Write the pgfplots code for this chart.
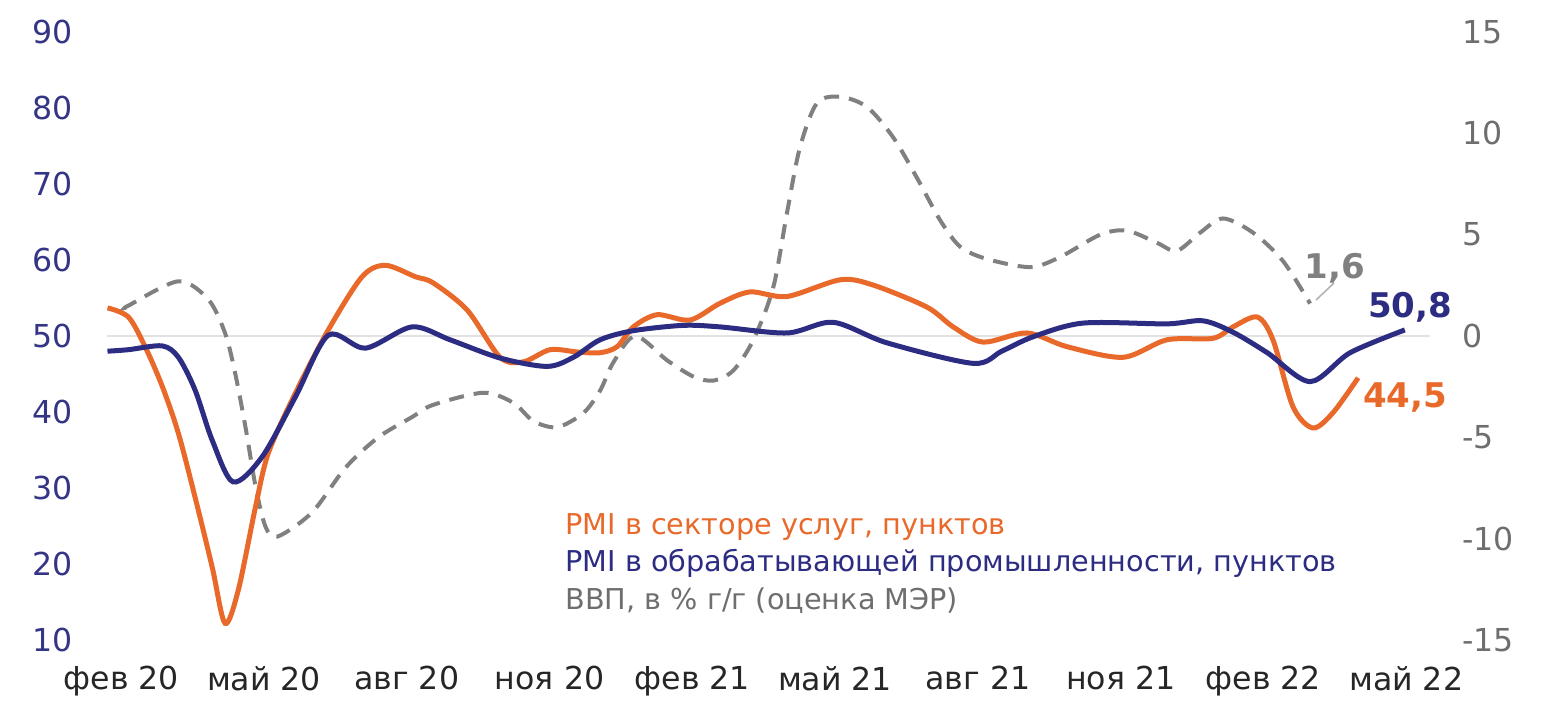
\documentclass[border=0pt]{standalone}
\usepackage{pgfplots}
\pgfplotsset{compat=1.18}
\usepackage{fontspec}
\setmainfont{DejaVu Sans}

\definecolor{cOrange}{HTML}{E8692A}
\definecolor{cNavy}{HTML}{2C2C82}
\definecolor{cGdp}{HTML}{808080}
\definecolor{cLeftTick}{HTML}{353585}
\definecolor{cRightTick}{HTML}{6E6E6E}
\definecolor{cZero}{HTML}{E2E2E2}

\pgfplotsset{
  common/.style={
    scale only axis,
    width=661.5pt, height=304pt,
    at={(53.5pt,31pt)}, anchor=south west,
    xmin=-0.3, xmax=27.5,
    axis line style={draw=none},
    major tick length=0pt,
    /pgf/number format/assume math mode=true,
    tick label style={font=\fontsize{15.8}{18}\selectfont},
  },
}

\begin{document}
\begin{tikzpicture}
\useasboundingbox (0,0) rectangle (775pt,351pt);

% ВВП, правая ось
\begin{axis}[common,
    axis x line=none,
    axis y line*=right,
    ymin=-15, ymax=15,
    ytick={-15,-10,...,15},
    yticklabel style={text=cRightTick, inner sep=0pt, anchor=west, xshift=16pt},
    extra y ticks={0}, extra y tick labels={},
    extra y tick style={grid=major, major grid style={cZero, line width=0.6pt}},
]
\addplot[cGdp, line width=2pt, dash pattern=on 7.5pt off 5pt, smooth, tension=0.5] coordinates {
(0.10,1.4) (0.15,1.5) (1.20,2.7) (1.83,1.8) (2.18,0.15) (2.39,-1.8) (2.61,-4.5)
(2.82,-7.4) (3.03,-9.4) (3.28,-9.9) (4.01,-8.7) (4.71,-6.5) (5.40,-5.0)
(6.11,-4.0) (6.55,-3.4) (7.61,-2.8) (8.24,-3.3) (8.66,-4.2) (9.16,-4.5)
(9.71,-3.8) (10.06,-2.7) (10.34,-1.3) (10.80,0.0) (11.47,-1.2) (12.02,-2.0)
(12.44,-2.2) (12.86,-1.7) (13.28,-0.2) (13.70,2.4) (13.99,6.1) (14.26,9.3)
(14.62,11.5) (15.11,11.8) (15.67,11.3) (16.22,9.8) (16.72,7.8) (17.21,5.7)
(17.63,4.4) (18.19,3.8) (19.10,3.4) (19.73,3.9) (20.57,5.0) (21.13,5.2)
(21.76,4.6) (22.18,4.2) (22.67,5.1) (23.15,5.8) (23.78,5.1) (24.41,3.7)
(24.98,1.6)
};
\end{axis}

% PMI, левая ось
\begin{axis}[common,
    ymin=10, ymax=90,
    ytick={10,20,...,90},
    yticklabel style={text=cLeftTick, inner sep=0pt, anchor=east, xshift=-17pt},
    xtick={0,3,...,27},
    xticklabels={фев 20,май 20,авг 20,ноя 20,фев 21,май 21,авг 21,ноя 21,фев 22,май 22},
    xticklabel style={text=black!85, inner sep=0pt, anchor=north, yshift=-13pt},
]
\addplot[cOrange, line width=2.5pt, smooth, tension=0.5] coordinates {
(-0.29,53.7) (0.15,52.5) (0.50,48.6) (0.86,43.4) (1.20,37.2) (1.55,28.8)
(1.91,19.6) (2.18,12.2) (2.46,16.6) (2.82,27.5) (3.09,34.6) (3.66,42.5)
(4.35,50.8) (5.06,57.8) (5.55,59.3) (6.18,57.8) (6.55,57.0) (7.27,53.4)
(7.96,47.2) (8.45,46.6) (9.01,48.2) (9.58,47.9) (10.06,47.8) (10.42,48.6)
(10.76,51.2) (11.26,52.8) (11.95,52.1) (12.58,54.3) (13.21,55.8) (13.99,55.2)
(15.11,57.4) (15.80,56.7) (16.93,53.8) (17.48,51.2) (18.11,49.2) (19.03,50.4)
(19.87,48.6) (21.05,47.2) (21.97,49.5) (22.94,49.7) (23.36,51.2) (23.87,52.5)
(24.20,49.5) (24.62,40.7) (25.04,37.9) (25.46,39.9) (25.99,44.5)
};
\addplot[cNavy, line width=2.5pt, smooth, tension=0.5] coordinates {
(-0.29,48.0) (0.15,48.2) (0.86,48.7) (1.20,47.2) (1.55,42.9) (1.91,36.3)
(2.35,30.8) (2.96,34.1) (3.66,42.0) (4.35,50.1) (5.13,48.4) (6.11,51.2)
(6.91,49.5) (7.96,47.1) (8.95,46.0) (9.50,47.2) (10.06,49.5) (10.76,50.7)
(11.81,51.4) (12.58,51.2) (13.99,50.4) (14.96,51.8) (16.09,49.1) (17.90,46.4)
(18.50,48.0) (19.16,49.9) (20.21,51.7) (21.97,51.6) (22.73,52.0) (23.36,50.5)
(24.08,47.8) (24.98,44.0) (25.82,47.8) (26.97,50.8)
};
\end{axis}

% подписи последних значений
\draw[cGdp!60, line width=0.8pt] (658pt,201pt) -- (667pt,209.5pt);
\node[text=cGdp, font=\fontsize{17}{20}\selectfont\bfseries] at (667.5pt,217pt) {1,6};
\node[text=cNavy, font=\fontsize{17}{20}\selectfont\bfseries] at (705pt,197.5pt) {50,8};
\node[text=cOrange, font=\fontsize{17}{20}\selectfont\bfseries] at (702.5pt,152pt) {44,5};

% легенда
\begin{scope}[every node/.style={anchor=west, inner sep=0pt, font=\fontsize{14.35}{16}\selectfont}]
\node[text=cOrange] at (282.5pt,87.5pt) {PMI в секторе услуг, пунктов};
\node[text=cNavy] at (282.5pt,69.5pt) {PMI в обрабатывающей промышленности, пунктов};
\node[text=cRightTick] at (282.5pt,50.5pt) {ВВП, в \% г/г (оценка МЭР)};
\end{scope}
\end{tikzpicture}
\end{document}
